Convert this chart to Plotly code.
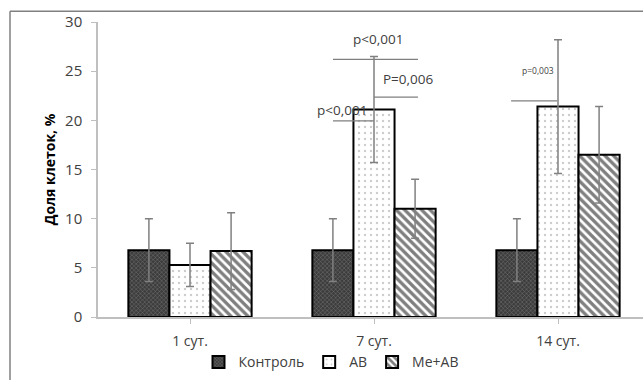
import plotly.graph_objects as go

categories = ["1 сут.", "7 сут.", "14 сут."]
series_names = ["Контроль", "AB", "Me+AB"]
control_vals = [6.8, 6.8, 6.8]
control_err = [3.2, 3.2, 3.2]
ab_vals = [5.3, 21.1, 21.4]
ab_err = [2.2, 5.4, 6.8]
meab_vals = [6.7, 11.0, 16.5]
meab_err = [3.9, 3.0, 4.9]
y_ticks = [0, 5, 10, 15, 20, 25, 30]

# significance annotations: (text, x, y, size)
sig_texts = [("p<0,001", 1.02, 28.25, 13.5), ("P=0,006", 1.185, 24.2, 13.5),
             ("p<0,001", 0.826, 21.1, 13.5), ("p=0,003", 1.89, 25.1, 8.5)]
# significance lines: (x0, x1, y)
sig_lines = [(0.777, 1.239, 26.2), (1.0, 1.239, 22.35), (0.777, 1.0, 19.94), (1.745, 1.995, 21.97)]

W, H = 643, 380
L, T, B = 98, 21.7, 63.3
plot_w = W - L
plot_h = H - T - B

fig = go.Figure()
xs = [0, 1, 2]
err_style = dict(type="data", thickness=1.5, width=4, color="#808080")
fig.add_trace(go.Bar(
    x=xs, y=control_vals, name=series_names[0],
    error_y=dict(array=control_err, **err_style),
    marker=dict(color="#3a3a3a", line=dict(color="#000000", width=2),
                pattern=dict(shape="x", bgcolor="#3c3c3c", fgcolor="#c8c8c8", size=3, solidity=0.25)),
))
fig.add_trace(go.Bar(
    x=xs, y=ab_vals, name=series_names[1],
    error_y=dict(array=ab_err, **err_style),
    marker=dict(color="#ffffff", line=dict(color="#000000", width=2),
                pattern=dict(shape=".", bgcolor="#ffffff", fgcolor="#999999", size=6, solidity=0.12)),
))
fig.add_trace(go.Bar(
    x=xs, y=meab_vals, name=series_names[2],
    error_y=dict(array=meab_err, **err_style),
    marker=dict(color="#ffffff", line=dict(color="#000000", width=2),
                pattern=dict(shape="\\", bgcolor="#ffffff", fgcolor="#000000", size=6, solidity=0.55)),
))

for (txt, x, y, s) in sig_texts:
    fig.add_annotation(x=x, y=y, text=txt, showarrow=False, xref="x", yref="y",
                       font=dict(family="Open Sans", size=s, color="#404040"))
for (x0, x1, y) in sig_lines:
    fig.add_shape(type="line", x0=x0, x1=x1, y0=y, y1=y, xref="x", yref="y",
                  line=dict(color="#7f7f7f", width=1.2))

# outer chart border (right and bottom edges cropped off in the reference)
bx0 = (10 - L) / plot_w
by1 = (H - B - 11) / plot_h
fig.add_shape(type="line", xref="paper", yref="paper", x0=bx0, x1=1.2, y0=by1, y1=by1,
              line=dict(color="#808080", width=1.5), layer="above")
fig.add_shape(type="line", xref="paper", yref="paper", x0=bx0, x1=bx0, y0=-0.4, y1=by1,
              line=dict(color="#808080", width=1.5), layer="above")

fig.update_layout(
    width=W, height=H,
    margin=dict(l=L, r=0, t=T, b=B),
    paper_bgcolor="white", plot_bgcolor="white",
    barmode="group", bargap=0.33, bargroupgap=0,
    font=dict(family="Open Sans", color="#404040"),
    showlegend=True,
    legend=dict(orientation="h", x=(331 - L) / plot_w, xanchor="center",
                y=(H - B - 362) / plot_h, yanchor="middle", bgcolor="rgba(0,0,0,0)",
                font=dict(size=14, color="#404040"), itemwidth=30, traceorder="normal"),
    xaxis=dict(tickmode="array", tickvals=xs, ticktext=categories,
               range=[-0.5, 2.5 - 7 / 184], showgrid=False,
               showline=True, linecolor="#bfbfbf", linewidth=1.5,
               ticks="outside", tickson="boundaries", ticklen=5, tickcolor="#bfbfbf",
               ticklabelstandoff=5,
               tickfont=dict(size=14, color="#404040")),
    yaxis=dict(range=[0, 30], tickvals=y_ticks, showgrid=False, zeroline=False,
               showline=True, linecolor="#bfbfbf", linewidth=1.5,
               ticks="outside", ticklen=5, tickcolor="#bfbfbf",
               ticklabelstandoff=6,
               tickfont=dict(size=15, color="#404040"),
               title=dict(text="<b>Доля клеток, %</b>", font=dict(size=14, color="#000000"), standoff=6)),
)

fig.write_html("out.html", config={"displayModeBar": False},
               post_script="document.body.style.margin='0';document.body.style.overflow='hidden';document.documentElement.style.overflow='hidden';")
